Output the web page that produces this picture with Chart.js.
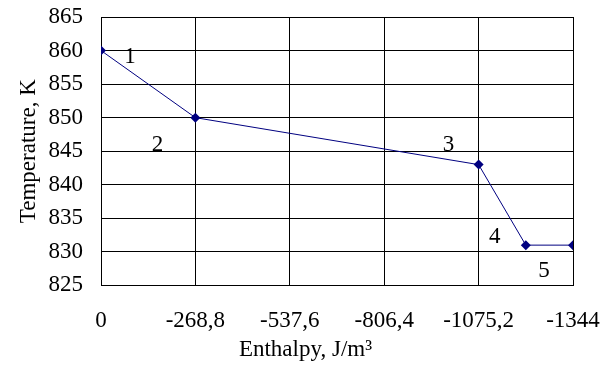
<!DOCTYPE html>
<html>
<head>
<meta charset="utf-8">
<script src="https://cdn.jsdelivr.net/npm/chart.js@4"></script>
<style>
  html, body { margin: 0; padding: 0; background: #fff; }
  #wrap { width: 611px; height: 370px; }
</style>
</head>
<body>
<div id="wrap"><canvas id="chart"></canvas></div>
<script>
const enthalpy = [0, -268.8, -1075.2, -1209.6, -1344]
const temperature = [860, 850, 843, 831, 831]
const pointNames = ['1', '2', '3', '4', '5']
const xTicks = [0, -268.8, -537.6, -806.4, -1075.2, -1344]

const serif = '"Liberation Serif", "Times New Roman", serif'
Chart.defaults.font.family = serif
Chart.defaults.font.size = 23
Chart.defaults.color = '#000'

// Numbers next to the points, offset in pixels from each point
const pointLabels = {
  id: 'pointLabels',
  afterDatasetsDraw(chart, args, opts) {
    const { ctx } = chart
    const meta = chart.getDatasetMeta(0)
    ctx.save()
    ctx.font = `23px ${serif}`
    ctx.fillStyle = '#000'
    ctx.textAlign = 'center'
    ctx.textBaseline = 'middle'
    meta.data.forEach((pt, i) => {
      const [dx, dy] = opts.offsets[i]
      ctx.fillText(pointNames[i], pt.x + dx, pt.y + dy)
    })
    ctx.restore()
  },
}

new Chart(document.getElementById('chart'), {
  type: 'scatter',
  data: {
    datasets: [
      {
        data: enthalpy.map((x, i) => ({ x, y: temperature[i] })),
        showLine: true,
        borderColor: '#000080',
        borderWidth: 1,
        backgroundColor: '#000080',
        pointStyle: 'rectRot',
        pointRadius: 5,
        pointBorderWidth: 0,
      },
    ],
  },
  options: {
    responsive: true,
    maintainAspectRatio: false,
    animation: false,
    layout: { padding: 0 },
    plugins: {
      legend: { display: false },
      tooltip: { enabled: false },
      // x axis name sits centred under the whole figure, as in the original
      title: {
        display: true,
        position: 'bottom',
        text: 'Enthalpy, J/m³',
        color: '#000',
        font: { size: 23, weight: 'normal' },
        padding: { top: 0, bottom: 6 },
      },
      pointLabels: {
        offsets: [[29, 6], [-38, 27], [-30, -20], [-31, -8], [-29, 26]],
      },
    },
    scales: {
      x: {
        type: 'linear',
        min: -1344,
        max: 0,
        reverse: true,
        afterBuildTicks(axis) {
          axis.ticks = xTicks.map((v) => ({ value: v }))
        },
        afterFit(axis) {
          axis.height = 51
          axis.paddingLeft = 0
          axis.paddingRight = 38
        },
        ticks: {
          padding: 22,
          maxRotation: 0,
          autoSkip: false,
          callback: (v) => String(v).replace('.', ','),
        },
        grid: { color: '#000', lineWidth: 1, drawTicks: false },
        border: { color: '#000', width: 1 },
      },
      y: {
        min: 825,
        max: 865,
        afterFit(axis) {
          axis.width = 101
          axis.paddingTop = 17
          axis.paddingBottom = 0
        },
        ticks: { stepSize: 5, padding: 18 },
        grid: { color: '#000', lineWidth: 1, drawTicks: false },
        border: { color: '#000', width: 1 },
        title: { display: true, text: 'Temperature, K', padding: { top: 15, bottom: 0 } },
      },
    },
  },
  plugins: [pointLabels],
})
</script>
</body>
</html>
